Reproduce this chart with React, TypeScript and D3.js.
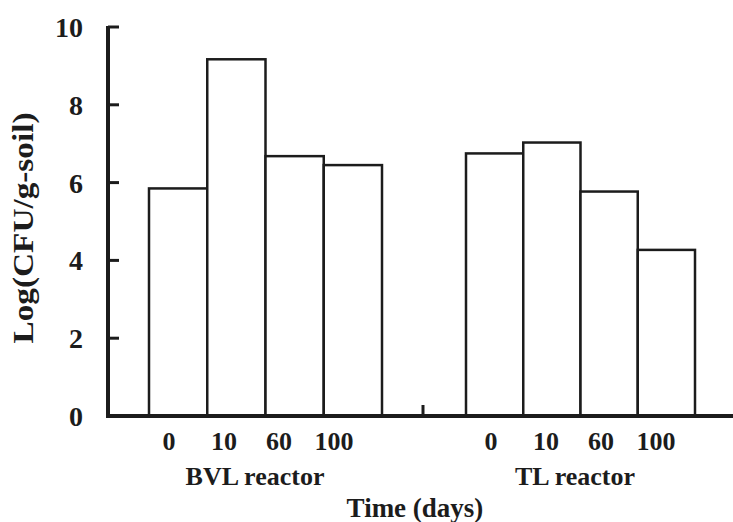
import React from "react";
import * as d3 from "d3";

const days = ["0", "10", "60", "100"];
const groups = ["BVL reactor", "TL reactor"];
const bvlValues = [5.85, 9.17, 6.68, 6.45];
const tlValues = [6.75, 7.03, 5.77, 4.27];
const yTicks = [0, 2, 4, 6, 8, 10];

const W = 733;
const H = 522;
const FONT = "'Liberation Serif', 'Times New Roman', serif";
const INK = "#1c1c1c";

export default function App() {
  const y = d3.scaleLinear().domain([0, 10]).range([416, 27]);
  const axisX = 108;
  const groupRanges: [number, number][] = [
    [149, 382],
    [466, 695],
  ];
  const labelOffsets = [20, 25];
  const groupLabelX = [255, 575];
  const series = [bvlValues, tlValues];

  return (
    <svg width={W} height={H} style={{ position: "absolute", left: 0, top: 0, background: "#fff" }}>
      <rect width={W} height={H} fill="#fff" />
      {series.map((vals, gi) => {
        const xb = d3.scaleBand<string>().domain(days).range(groupRanges[gi]).padding(0);
        const xl = d3
          .scalePoint<string>()
          .domain(days)
          .range([groupRanges[gi][0] + labelOffsets[gi], groupRanges[gi][0] + labelOffsets[gi] + 165]);
        return (
          <g key={gi}>
            {vals.map((v, i) => (
              <rect
                key={i}
                x={xb(days[i])!}
                y={y(v)}
                width={xb.bandwidth()}
                height={y(0) - y(v)}
                fill="#fff"
                stroke={INK}
                strokeWidth={2.5}
              />
            ))}
            {days.map((d) => (
              <text
                key={d}
                x={xl(d)!}
                y={450}
                textAnchor="middle"
                fontFamily={FONT}
                fontWeight="bold"
                fontSize={26}
                fill={INK}
              >
                {d}
              </text>
            ))}
            <text
              x={groupLabelX[gi]}
              y={485}
              textAnchor="middle"
              fontFamily={FONT}
              fontWeight="bold"
              fontSize={26}
              fill={INK}
            >
              {groups[gi]}
            </text>
          </g>
        );
      })}
      {/* x axis */}
      <line x1={106} x2={733} y1={y(0)} y2={y(0)} stroke={INK} strokeWidth={4} />
      <line x1={423} x2={423} y1={y(0)} y2={y(0) - 11} stroke={INK} strokeWidth={3} />
      {/* y axis */}
      <line x1={axisX} x2={axisX} y1={y(10) - 1} y2={y(0) + 2} stroke={INK} strokeWidth={4} />
      {yTicks.map((t) => (
        <g key={t}>
          {t > 0 && (
            <line x1={axisX} x2={axisX + 11} y1={y(t)} y2={y(t)} stroke={INK} strokeWidth={3} />
          )}
          <text
            x={83}
            y={y(t) + 10}
            textAnchor="end"
            fontFamily={FONT}
            fontWeight="bold"
            fontSize={28}
            fill={INK}
          >
            {t}
          </text>
        </g>
      ))}
      <text
        transform={`translate(33, 228) rotate(-90)`}
        textAnchor="middle"
        fontFamily={FONT}
        fontWeight="bold"
        fontSize={29}
        textLength={231}
        lengthAdjust="spacingAndGlyphs"
        fill={INK}
      >
        Log(CFU/g-soil)
      </text>
      <text
        x={415}
        y={517}
        textAnchor="middle"
        fontFamily={FONT}
        fontWeight="bold"
        fontSize={27}
        fill={INK}
      >
        Time (days)
      </text>
    </svg>
  );
}
